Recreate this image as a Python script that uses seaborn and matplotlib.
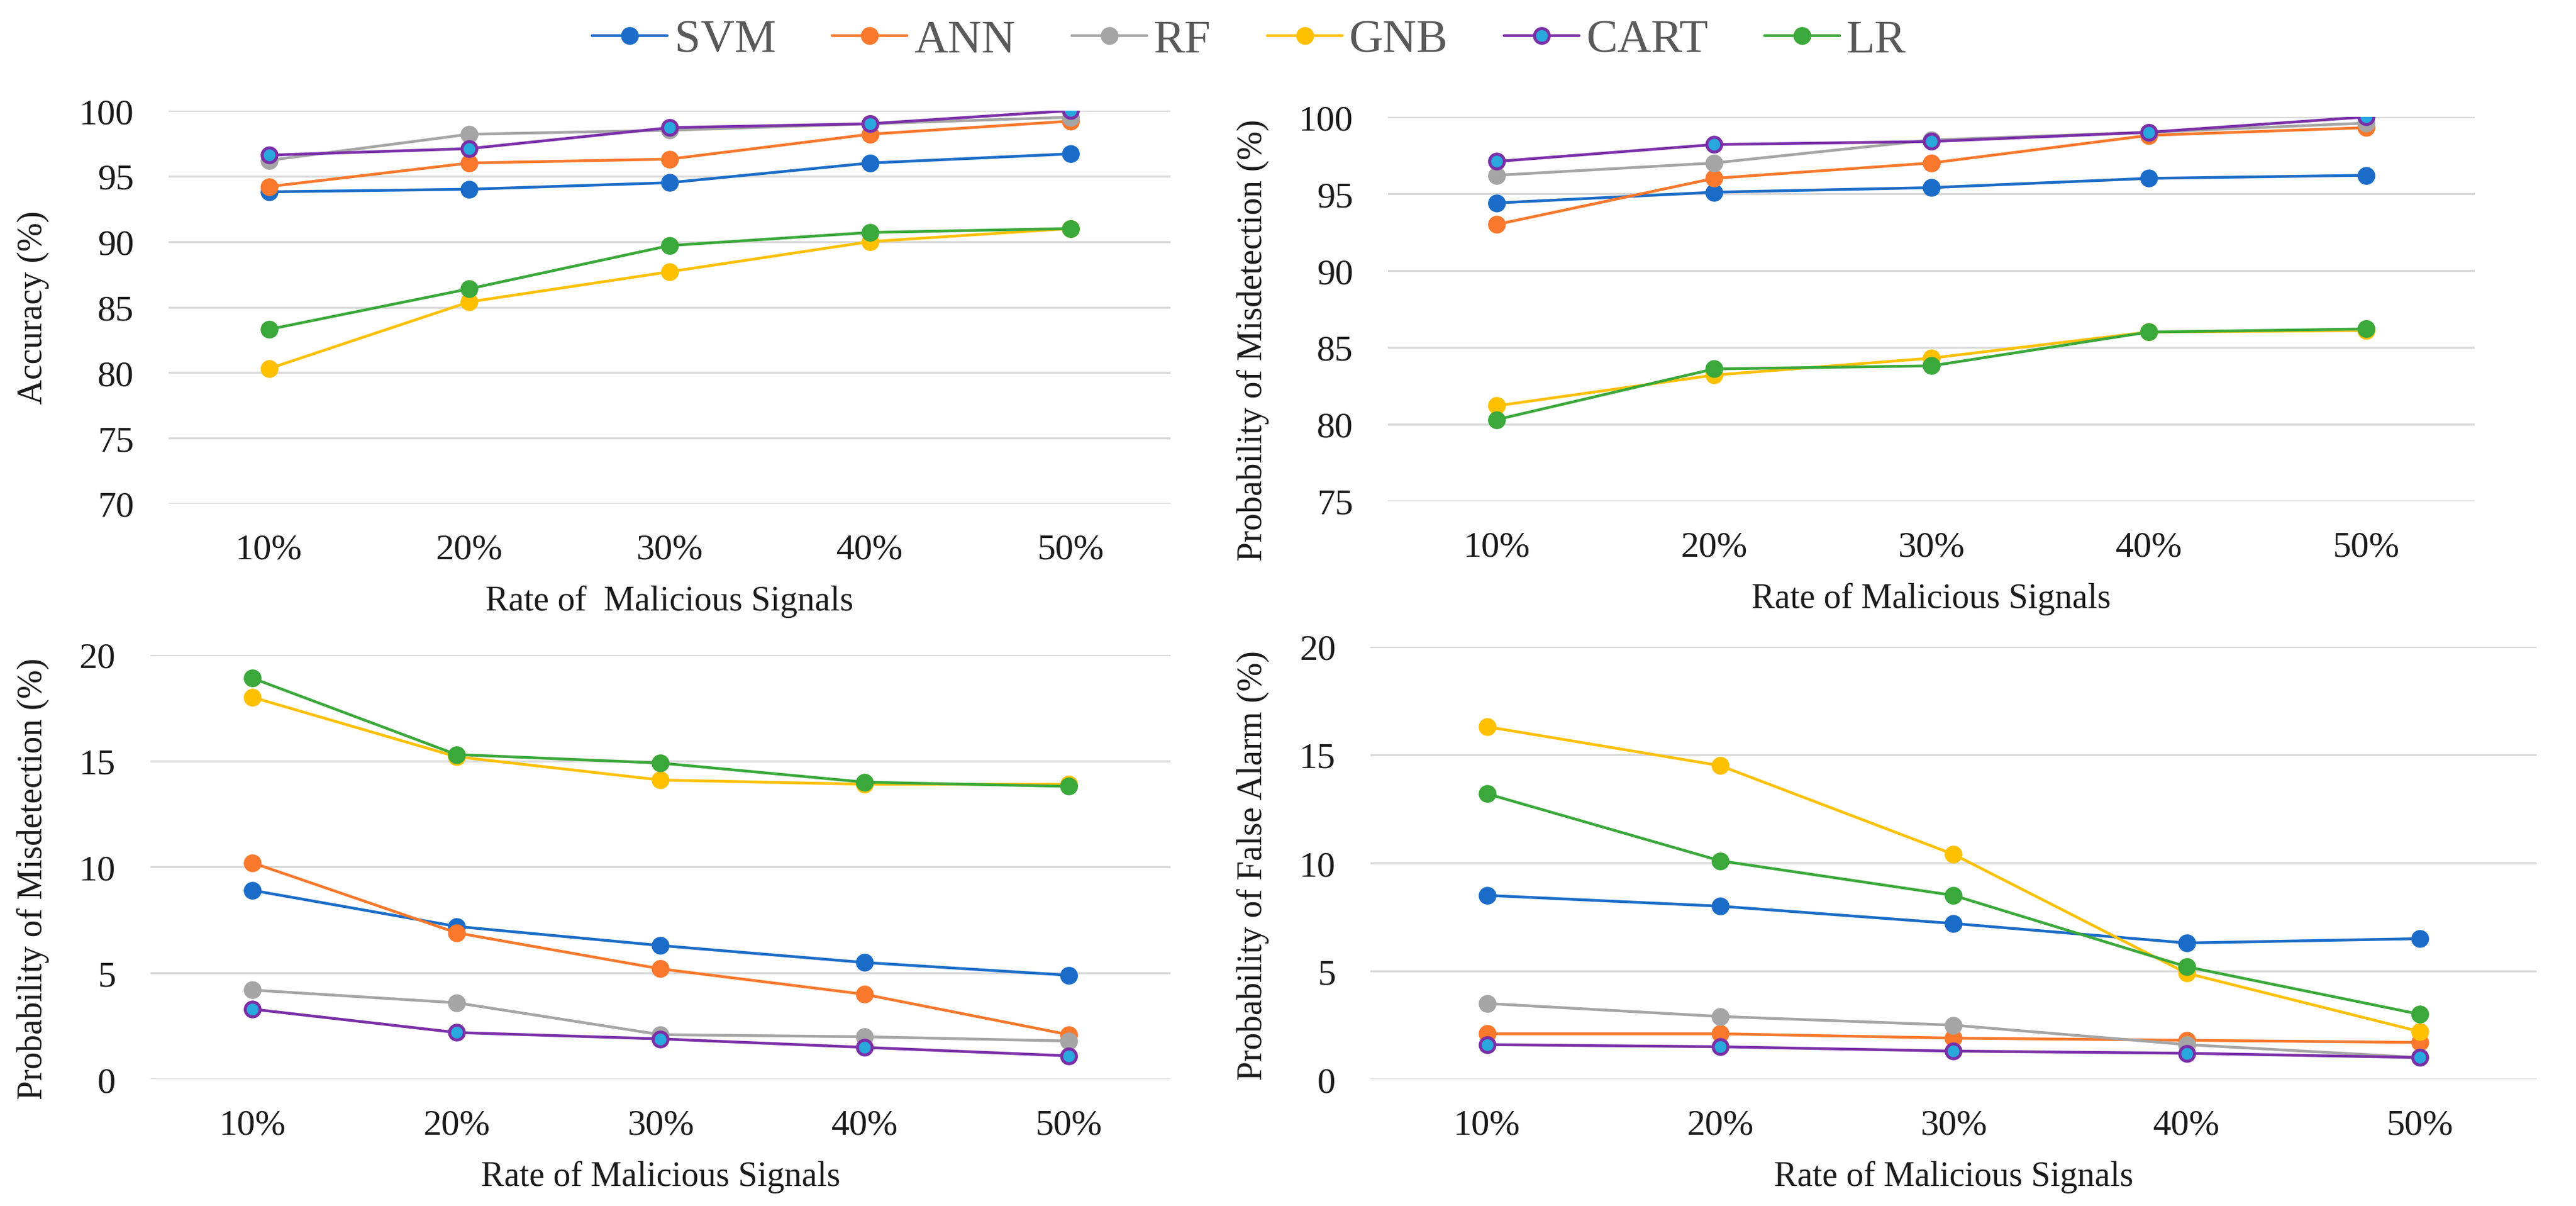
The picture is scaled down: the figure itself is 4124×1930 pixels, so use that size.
import matplotlib
matplotlib.use("Agg")
import matplotlib.pyplot as plt
import seaborn as sns
import pandas as pd

# ---------------- data ----------------
rates = ["10%", "20%", "30%", "40%", "50%"]
models = ["SVM", "ANN", "RF", "GNB", "CART", "LR"]

acc_svm = [93.8, 94.0, 94.5, 96.0, 96.7]
acc_ann = [94.2, 96.0, 96.3, 98.2, 99.2]
acc_rf = [96.2, 98.2, 98.5, 99.0, 99.5]
acc_gnb = [80.3, 85.4, 87.7, 90.0, 91.0]
acc_cart = [96.6, 97.1, 98.7, 99.0, 100.0]
acc_lr = [83.3, 86.4, 89.7, 90.7, 91.0]

det_svm = [94.4, 95.1, 95.4, 96.0, 96.2]
det_ann = [93.0, 96.0, 97.0, 98.8, 99.3]
det_rf = [96.2, 97.0, 98.5, 99.0, 99.6]
det_gnb = [81.2, 83.2, 84.3, 86.0, 86.1]
det_cart = [97.1, 98.2, 98.4, 99.0, 100.0]
det_lr = [80.3, 83.6, 83.8, 86.0, 86.2]

mis_svm = [8.9, 7.2, 6.3, 5.5, 4.9]
mis_ann = [10.2, 6.9, 5.2, 4.0, 2.1]
mis_rf = [4.2, 3.6, 2.1, 2.0, 1.8]
mis_gnb = [18.0, 15.2, 14.1, 13.9, 13.9]
mis_cart = [3.3, 2.2, 1.9, 1.5, 1.1]
mis_lr = [18.9, 15.3, 14.9, 14.0, 13.8]

fa_svm = [8.5, 8.0, 7.2, 6.3, 6.5]
fa_ann = [2.1, 2.1, 1.9, 1.8, 1.7]
fa_rf = [3.5, 2.9, 2.5, 1.6, 1.0]
fa_gnb = [16.3, 14.5, 10.4, 4.9, 2.2]
fa_cart = [1.6, 1.5, 1.3, 1.2, 1.0]
fa_lr = [13.2, 10.1, 8.5, 5.2, 3.0]

panels = [
    ("Accuracy (%)", "Rate of  Malicious Signals", [acc_svm, acc_ann, acc_rf, acc_gnb, acc_cart, acc_lr], (70, 100), [70, 75, 80, 85, 90, 95, 100]),
    ("Probability of Misdetection (%)", "Rate of Malicious Signals", [det_svm, det_ann, det_rf, det_gnb, det_cart, det_lr], (75, 100), [75, 80, 85, 90, 95, 100]),
    ("Probability of Misdetection (%)", "Rate of Malicious Signals", [mis_svm, mis_ann, mis_rf, mis_gnb, mis_cart, mis_lr], (0, 20), [0, 5, 10, 15, 20]),
    ("Probability of False Alarm (%)", "Rate of Malicious Signals", [fa_svm, fa_ann, fa_rf, fa_gnb, fa_cart, fa_lr], (0, 20), [0, 5, 10, 15, 20]),
]

# ---------------- style ----------------
sns.set_theme(style="white")
plt.rcParams["font.family"] = ["Liberation Serif", "DejaVu Serif"]

colors = {"SVM": "#1b6cc8", "ANN": "#f9782c", "RF": "#a5a5a5",
          "GNB": "#ffc000", "CART": "#7a2fa8", "LR": "#3aa83a"}
faces = dict(colors)
faces["CART"] = "#29a8dc"

fig = plt.figure(figsize=(41.24, 19.31), dpi=100)

# axes rectangles [left, bottom, width, height] in figure fraction
rects = [
    [0.0655, 0.5821, 0.3889, 0.3257],
    [0.5388, 0.5842, 0.4219, 0.3184],
    [0.0584, 0.1051, 0.3960, 0.3517],
    [0.5320, 0.1051, 0.4527, 0.3584],
]
ylabel_xy = [(-0.119, 0.50), (-0.109, 0.42), (-0.099, 0.473), (-0.087, 0.496)]

tick_fs = 42
label_fs = 40

axes = []
for (ylab, xlab, series, ylim, yticks), rect, lxy in zip(panels, rects, ylabel_xy):
    ax = fig.add_axes(rect)
    axes.append(ax)
    for name, vals in zip(models, series):
        df = pd.DataFrame({"rate": rates, "value": vals})
        sns.lineplot(data=df, x="rate", y="value", ax=ax, color=colors[name],
                     marker="o", markersize=17, markerfacecolor=faces[name],
                     markeredgecolor=colors[name], markeredgewidth=3.5,
                     linewidth=3.2, label=name, sort=False)
    ax.set_xlim(-0.5, len(rates) - 0.5)
    ax.set_ylim(*ylim)
    ax.set_yticks(yticks)
    ax.set_yticklabels([str(t) for t in yticks])
    ax.yaxis.grid(True, color="#d9d9d9", linewidth=2.4)
    ax.xaxis.grid(False)
    ax.set_axisbelow(True)
    for s in ax.spines.values():
        s.set_visible(False)
    ax.tick_params(axis="both", length=0, labelsize=tick_fs, colors="#1a1a1a")
    ax.tick_params(axis="x", pad=34)
    ax.tick_params(axis="y", pad=40)
    for lbl in ax.get_yticklabels() + ax.get_xticklabels():
        lbl.set_fontfamily(["Liberation Serif"])
    ax.set_xlabel(xlab, fontsize=label_fs, color="#1a1a1a", labelpad=22)
    ax.set_ylabel(ylab, fontsize=label_fs, color="#1a1a1a")
    ax.yaxis.set_label_coords(lxy[0], lxy[1])
    if ax.get_legend() is not None:
        ax.get_legend().remove()

handles, labels = axes[0].get_legend_handles_labels()
leg = fig.legend(handles, labels, loc="center", bbox_to_anchor=(0.485, 0.966),
                 ncol=6, frameon=False, fontsize=54, handlelength=1.6,
                 handletextpad=0.15, columnspacing=1.2)
for t in leg.get_texts():
    t.set_color("#595959")

fig.savefig("out.png", dpi=100, facecolor="white")
